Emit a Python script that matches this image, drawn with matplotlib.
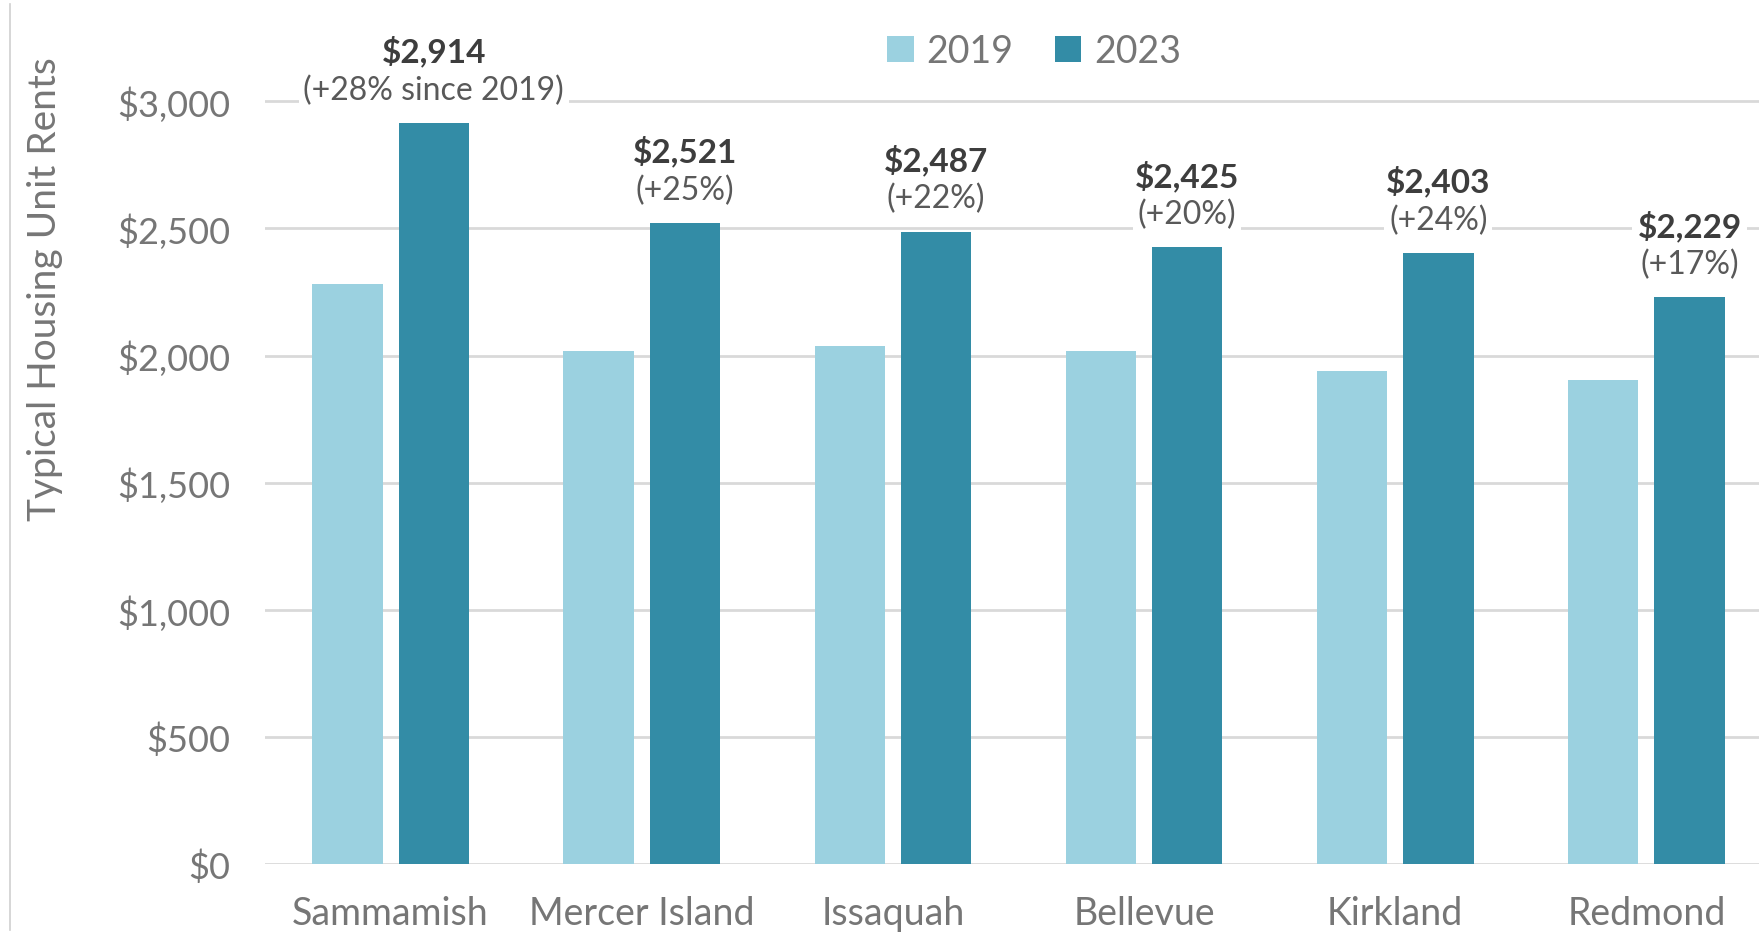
import matplotlib.pyplot as plt
import numpy as np
from matplotlib.lines import Line2D

cities = ['Sammamish', 'Mercer Island', 'Issaquah', 'Bellevue', 'Kirkland', 'Redmond']
rent_2019 = [2283, 2019, 2039, 2018, 1938, 1905]
rent_2023 = [2914, 2521, 2487, 2425, 2403, 2229]
value_labels = ['$2,914', '$2,521', '$2,487', '$2,425', '$2,403', '$2,229']
change_labels = ['(+28% since 2019)', '(+25%)', '(+22%)', '(+20%)', '(+24%)', '(+17%)']

c2019 = '#9bd1e0'
c2023 = '#338ca6'
grey = '#767676'
dark = '#3d3d3d'

plt.rcParams['font.family'] = ['Lato', 'DejaVu Sans']

fig = plt.figure(figsize=(17.59, 9.45), dpi=100)
# axes runs past the right edge, like the cropped original
ax = fig.add_axes([265 / 1759, 80 / 945, 1507 / 1759, 839 / 945])

x = np.arange(len(cities))
w = 0.28
off = 0.172
ax.bar(x - off, rent_2019, w, color=c2019, label='2019', zorder=3)
ax.bar(x + off, rent_2023, w, color=c2023, label='2023', zorder=3)

ax.set_xlim(-0.5, len(cities) - 0.5)
ax.set_ylim(0, 3300)
ax.set_yticks(np.arange(0, 3001, 500))
ax.set_yticklabels(['${:,.0f}'.format(v) for v in np.arange(0, 3001, 500)])
ax.set_xticks(x)
ax.set_xticklabels(cities)
ax.tick_params(axis='both', length=0, colors=grey)
ax.tick_params(axis='y', pad=25, labelsize=26)
ax.tick_params(axis='x', pad=22, labelsize=27)
ax.grid(axis='y', color='#d9d9d9', linewidth=2, zorder=0)
for s in ax.spines.values():
    s.set_visible(False)

ax.set_ylabel('Typical Housing Unit Rents', fontsize=28, color=grey)
ax.yaxis.set_label_coords(-0.134, 0.686)

for i in range(len(cities)):
    ax.annotate(change_labels[i], (x[i] + off, rent_2023[i]), xytext=(0, 24),
                textcoords='offset points', ha='center', va='center', fontsize=23,
                color='#595959', zorder=5,
                bbox=dict(boxstyle='square,pad=0.15', fc='white', ec='none'))
    ax.annotate(value_labels[i], (x[i] + off, rent_2023[i]), xytext=(0, 52),
                textcoords='offset points', ha='center', va='center', fontsize=24,
                fontweight='bold', color=dark, zorder=5,
                bbox=dict(boxstyle='square,pad=0.15', fc='white', ec='none'))

fig.legend(loc='center', bbox_to_anchor=(0.588, 0.945), ncol=2, frameon=False,
           fontsize=27, labelcolor=grey, handlelength=0.7, handleheight=0.7,
           handletextpad=0.35, columnspacing=1.1)

fig.add_artist(Line2D([10 / 1759, 10 / 1759], [0.015, 0.995], color='#cfcfcf', linewidth=1.2))

plt.savefig('out.png', dpi=100)
